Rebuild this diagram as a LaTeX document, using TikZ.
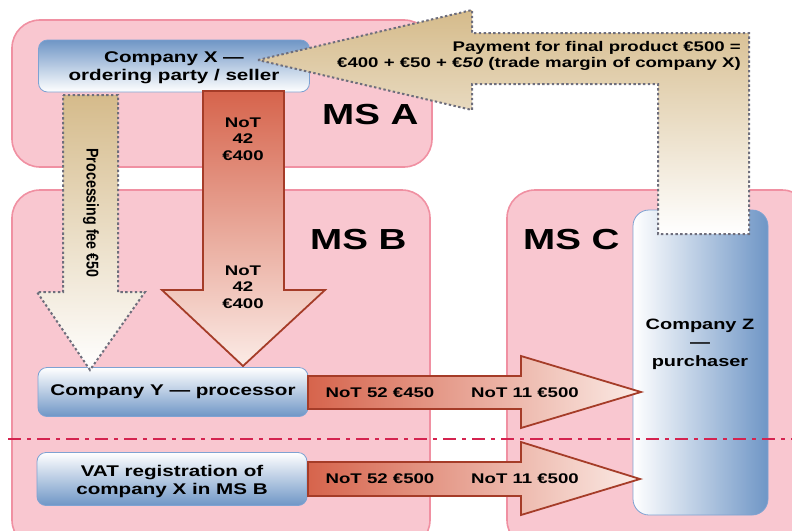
\documentclass[tikz,border=0pt]{standalone}
\usepackage{fontspec}
\setmainfont[FakeStretch=1.33]{Liberation Sans}
\definecolor{regfill}{HTML}{F9C7D0}
\definecolor{regborder}{HTML}{F090A2}
\definecolor{boxblue}{HTML}{6F96C6}
\definecolor{boxborder}{HTML}{7EA2D2}
\definecolor{redDark}{HTML}{D6644C}
\definecolor{redLight}{HTML}{FBEBE6}
\definecolor{redBorder}{HTML}{A53C28}
\definecolor{tanc}{HTML}{D5BB8B}
\definecolor{dotgray}{HTML}{6E6E7C}
\definecolor{sepred}{HTML}{D4234F}
\begin{document}
\begin{tikzpicture}[x=1pt,y=-1pt,
  region/.style={fill=regfill,draw=regborder,line width=1.6pt,rounded corners=28pt},
  cotext/.style={font=\bfseries\fontsize{15.5}{18}\selectfont,align=center,inner sep=0pt},
  cobox/.style={cotext,draw=boxborder,line width=0.8pt,rounded corners=9pt},
  redarrow/.style={draw=redBorder,line width=1.8pt,line join=miter},
  tanarrow/.style={draw=dotgray,line width=2pt,dash pattern=on 2.4pt off 2.4pt},
  notlabel/.style={font=\bfseries\fontsize{14}{16.5}\selectfont,align=center,inner sep=0pt},
  mslabel/.style={font=\bfseries\fontsize{29}{32}\selectfont,anchor=west,inner sep=0pt}]
\useasboundingbox (0,0) rectangle (792,530);
\begin{scope}
\clip (0,0) rectangle (792,530);
% regions
\draw[region] (12,20) rectangle (432,167);
\draw[region] (12,190) rectangle (430,548);
\draw[region] (507,190) rectangle (810,548);
% labels of regions
\node[mslabel] (msa) at (322,115) {MS A};
\node[mslabel] (msb) at (310,240) {MS B};
\node[mslabel] (msc) at (523,240) {MS C};
% company boxes
\node[cobox,top color=boxblue,bottom color=white,minimum width=271pt,minimum height=52pt] (X) at (174,66) {};
\node[cotext] (Xt) at (174,68) {Company X —\\ordering party / seller};
\node[cobox,top color=white,bottom color=boxblue,minimum width=270pt,minimum height=49pt] (Y) at (173,392) {Company Y — processor};
\node[cobox,top color=white,bottom color=boxblue,minimum width=270pt,minimum height=53pt] (V) at (172,479) {};
\node[cotext] (Vt) at (172,481) {VAT registration of\\company X in MS B};
\node[draw=boxborder,line width=0.8pt,rounded corners=16pt,left color=white,right color=boxblue,
  minimum width=135pt,minimum height=305pt,inner sep=0pt] (Z) at (700.5,362.5) {};
\node[notlabel,font=\bfseries\fontsize{15}{18.5}\selectfont] (Zt) at (700,344) {Company Z\\—\\purchaser};
% separator
\coordinate (sepL) at (8,439);
\coordinate (sepR) at (792,439);
\draw[sepred,line width=1.6pt,dash pattern=on 13pt off 6pt on 4pt off 6pt] (sepL) -- (sepR);
% processing fee arrow
\path[top color=tanc,bottom color=white] (63,95) -- (118,95) -- (118,292) -- (145,292) -- (90,370) -- (37,292) -- (63,292) -- cycle;
\draw[tanarrow] (63,95) -- (118,95) -- (118,292) -- (145,292) -- (90,370) -- (37,292) -- (63,292) -- cycle;
\node[rotate=-90,xscale=0.63,font=\bfseries\fontsize{17}{19}\selectfont,inner sep=0pt] (fee) at (91,213) {Processing fee €50};
% NoT 42 arrow
\draw[redarrow,top color=redDark,bottom color=redLight] (203,91) -- (284,91) -- (284,290) -- (325,290) -- (243,366) -- (162,290) -- (203,290) -- cycle;
\node[notlabel] (n42a) at (243,139) {NoT\\42\\€400};
\node[notlabel] (n42b) at (243,287) {NoT\\42\\€400};
% horizontal arrows
\draw[redarrow,left color=redDark,right color=redLight] (308,376) -- (521,376) -- (521,356) -- (641,392) -- (521,428) -- (521,409) -- (308,409) -- cycle;
\draw[redarrow,left color=redDark,right color=redLight] (308,462) -- (521,462) -- (521,442) -- (640,479) -- (521,515) -- (521,496) -- (308,496) -- cycle;
\node[notlabel] (n52a) at (380,393) {NoT 52 €450};
\node[notlabel] (n11a) at (525,393) {NoT 11 €500};
\node[notlabel] (n52b) at (380,479) {NoT 52 €500};
\node[notlabel] (n11b) at (525,479) {NoT 11 €500};
% payment arrow
\path[top color=tanc,bottom color=white] (258,60) -- (472,10) -- (472,33) -- (749,33) -- (749,234) -- (658,234) -- (658,84) -- (472,84) -- (472,110) -- cycle;
\draw[tanarrow] (258,60) -- (472,10) -- (472,33) -- (749,33) -- (749,234) -- (658,234) -- (658,84) -- (472,84) -- (472,110) -- cycle;
\node[notlabel,anchor=east,align=right,font=\bfseries\fontsize{14}{16.5}\selectfont] (pay) at (741,56) {Payment for final product €500 =\\€400 + €50 + €\textit{50} (trade margin of company X)};
\end{scope}
\end{tikzpicture}
\end{document}
